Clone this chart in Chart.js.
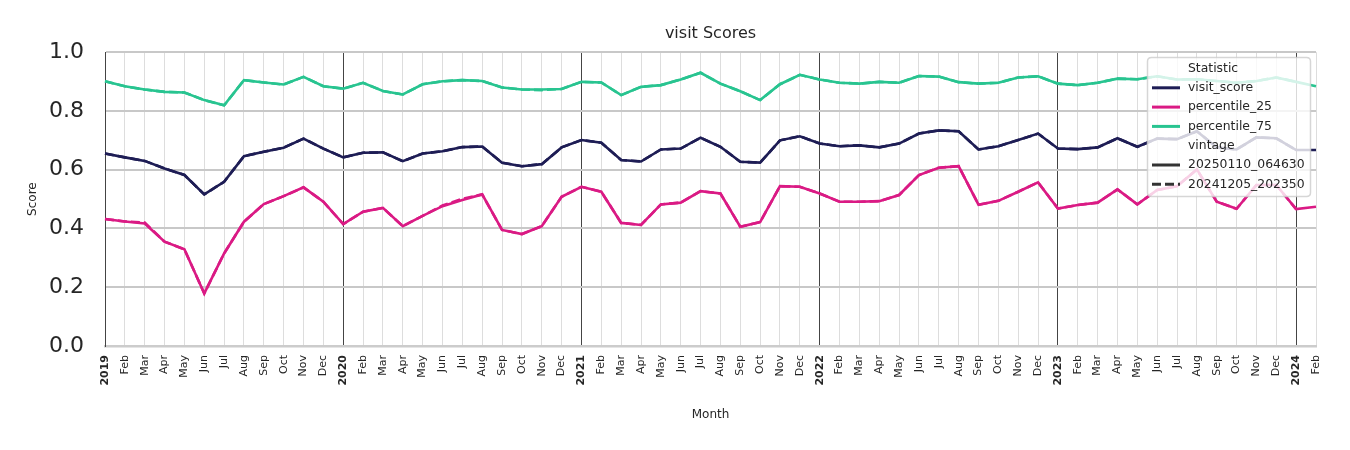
<!DOCTYPE html>
<html>
<head>
<meta charset="utf-8">
<script src="https://cdn.jsdelivr.net/npm/chart.js@4/dist/chart.umd.min.js"></script>
<style>
  html, body { margin: 0; padding: 0; background: #ffffff; }
  #wrap { width: 1350px; height: 450px; }
</style>
</head>
<body>
<div id="wrap"><canvas id="c" width="1350" height="450"></canvas></div>
<script>
// ---- Data (Jan 2019 .. Feb 2024) ----
const months = [
  "2019-01","2019-02","2019-03","2019-04","2019-05","2019-06","2019-07","2019-08","2019-09","2019-10","2019-11","2019-12",
  "2020-01","2020-02","2020-03","2020-04","2020-05","2020-06","2020-07","2020-08","2020-09","2020-10","2020-11","2020-12",
  "2021-01","2021-02","2021-03","2021-04","2021-05","2021-06","2021-07","2021-08","2021-09","2021-10","2021-11","2021-12",
  "2022-01","2022-02","2022-03","2022-04","2022-05","2022-06","2022-07","2022-08","2022-09","2022-10","2022-11","2022-12",
  "2023-01","2023-02","2023-03","2023-04","2023-05","2023-06","2023-07","2023-08","2023-09","2023-10","2023-11","2023-12",
  "2024-01","2024-02"
];
const monthNames = ["Jan","Feb","Mar","Apr","May","Jun","Jul","Aug","Sep","Oct","Nov","Dec"];

const visitScore = [
  0.655, 0.642, 0.630, 0.604, 0.582, 0.516, 0.559, 0.646, 0.661, 0.675, 0.706, 0.672,
  0.642, 0.658, 0.659, 0.629, 0.655, 0.663, 0.677, 0.679, 0.624, 0.612, 0.619, 0.676,
  0.701, 0.692, 0.633, 0.628, 0.669, 0.672, 0.709, 0.678, 0.627, 0.624, 0.700, 0.714,
  0.689, 0.680, 0.683, 0.676, 0.689, 0.723, 0.734, 0.731, 0.669, 0.680, 0.701, 0.723,
  0.672, 0.670, 0.676, 0.707, 0.678, 0.706, 0.704, 0.731, 0.676, 0.669, 0.710, 0.707,
  0.667, 0.667
];
const percentile25 = [
  0.432, 0.424, 0.417, 0.355, 0.329, 0.179, 0.315, 0.423, 0.483, 0.510, 0.540, 0.491,
  0.415, 0.457, 0.470, 0.408, 0.443, 0.476, 0.497, 0.516, 0.395, 0.381, 0.408, 0.508,
  0.542, 0.525, 0.419, 0.412, 0.482, 0.488, 0.527, 0.519, 0.406, 0.422, 0.544, 0.542,
  0.519, 0.491, 0.491, 0.493, 0.514, 0.582, 0.607, 0.612, 0.481, 0.494, 0.525, 0.557,
  0.468, 0.480, 0.488, 0.533, 0.482, 0.531, 0.544, 0.601, 0.491, 0.467, 0.548, 0.548,
  0.466, 0.474
];
const percentile75 = [
  0.901, 0.884, 0.873, 0.865, 0.863, 0.837, 0.819, 0.905, 0.897, 0.890, 0.916, 0.884,
  0.876, 0.896, 0.868, 0.856, 0.891, 0.901, 0.905, 0.902, 0.880, 0.873, 0.873, 0.875,
  0.899, 0.897, 0.854, 0.882, 0.888, 0.907, 0.930, 0.893, 0.867, 0.837, 0.891, 0.923,
  0.907, 0.896, 0.893, 0.899, 0.896, 0.919, 0.917, 0.898, 0.893, 0.896, 0.914, 0.918,
  0.893, 0.888, 0.896, 0.910, 0.908, 0.918, 0.907, 0.908, 0.902, 0.896, 0.902, 0.914,
  0.899, 0.884
];
// previous vintage (20241205_202350) - practically identical, ends Jan 2024
const prevVisitScore = [
  0.655, 0.642, 0.630, 0.604, 0.582, 0.516, 0.559, 0.646, 0.661, 0.675, 0.706, 0.672,
  0.642, 0.658, 0.659, 0.629, 0.655, 0.663, 0.677, 0.679, 0.624, 0.612, 0.619, 0.676,
  0.701, 0.692, 0.633, 0.628, 0.669, 0.672, 0.709, 0.678, 0.627, 0.624, 0.700, 0.714,
  0.689, 0.680, 0.683, 0.676, 0.689, 0.723, 0.734, 0.731, 0.669, 0.680, 0.701, 0.723,
  0.672, 0.670, 0.676, 0.707, 0.678, 0.706, 0.704, 0.731, 0.676, 0.669, 0.710, 0.707,
  0.667
];
const prevPercentile25 = [
  0.432, 0.424, 0.420, 0.355, 0.329, 0.179, 0.315, 0.423, 0.483, 0.510, 0.540, 0.491,
  0.415, 0.457, 0.470, 0.408, 0.443, 0.478, 0.501, 0.516, 0.395, 0.381, 0.408, 0.508,
  0.542, 0.525, 0.419, 0.412, 0.482, 0.488, 0.527, 0.519, 0.406, 0.422, 0.544, 0.542,
  0.519, 0.491, 0.491, 0.493, 0.514, 0.582, 0.607, 0.612, 0.481, 0.494, 0.525, 0.557,
  0.468, 0.480, 0.488, 0.533, 0.482, 0.531, 0.544, 0.601, 0.491, 0.467, 0.548, 0.548,
  0.466
];
const prevPercentile75 = [
  0.901, 0.884, 0.873, 0.865, 0.863, 0.837, 0.819, 0.905, 0.897, 0.890, 0.916, 0.884,
  0.876, 0.896, 0.868, 0.856, 0.891, 0.901, 0.905, 0.902, 0.880, 0.873, 0.871, 0.875,
  0.899, 0.897, 0.854, 0.882, 0.888, 0.907, 0.930, 0.893, 0.867, 0.837, 0.891, 0.923,
  0.907, 0.896, 0.893, 0.899, 0.896, 0.919, 0.917, 0.898, 0.893, 0.896, 0.914, 0.918,
  0.893, 0.888, 0.896, 0.910, 0.908, 0.918, 0.907, 0.908, 0.902, 0.896, 0.902, 0.914,
  0.899
];
const yTicks = [0.0, 0.2, 0.4, 0.6, 0.8, 1.0];

const COLORS = { visit: '#1e1d55', p25: '#da1a84', p75: '#28c490' };
const FONT = "'DejaVu Sans', 'Liberation Sans', sans-serif";

function tickText(i) {
  const [y, m] = months[i].split('-');
  return m === '01' ? y : monthNames[parseInt(m, 10) - 1];
}

const legendPlugin = {
  id: 'mplLegend',
  afterDatasetsDraw(chart) {
    const ctx = chart.ctx;
    const x0 = 1147.5, y0 = 57.5, w = 163, h = 139, r = 4;
    ctx.save();
    ctx.beginPath();
    ctx.moveTo(x0 + r, y0);
    ctx.lineTo(x0 + w - r, y0);
    ctx.quadraticCurveTo(x0 + w, y0, x0 + w, y0 + r);
    ctx.lineTo(x0 + w, y0 + h - r);
    ctx.quadraticCurveTo(x0 + w, y0 + h, x0 + w - r, y0 + h);
    ctx.lineTo(x0 + r, y0 + h);
    ctx.quadraticCurveTo(x0, y0 + h, x0, y0 + h - r);
    ctx.lineTo(x0, y0 + r);
    ctx.quadraticCurveTo(x0, y0, x0 + r, y0);
    ctx.closePath();
    ctx.fillStyle = 'rgba(255,255,255,0.8)';
    ctx.fill();
    ctx.strokeStyle = 'rgba(204,204,204,0.8)';
    ctx.lineWidth = 1.5;
    ctx.stroke();

    const items = [
      { label: 'Statistic' },
      { label: 'visit_score', color: COLORS.visit },
      { label: 'percentile_25', color: COLORS.p25 },
      { label: 'percentile_75', color: COLORS.p75 },
      { label: 'vintage' },
      { label: '20250110_064630', color: '#333333' },
      { label: '20241205_202350', color: '#333333', dash: [9, 4] }
    ];
    ctx.font = '12.4px ' + FONT;
    ctx.textBaseline = 'middle';
    ctx.textAlign = 'left';
    items.forEach((it, i) => {
      const yc = 68.5 + i * 19.3;
      if (it.color) {
        ctx.beginPath();
        ctx.setLineDash(it.dash || []);
        ctx.strokeStyle = it.color;
        ctx.lineWidth = 3;
        ctx.moveTo(1152, yc);
        ctx.lineTo(1180, yc);
        ctx.stroke();
        ctx.setLineDash([]);
      }
      ctx.fillStyle = '#262626';
      ctx.fillText(it.label, 1188, yc);
    });
    ctx.restore();
  }
};

function ds(label, data, color, dashed, order) {
  return {
    label, data,
    borderColor: color,
    backgroundColor: color,
    borderWidth: 2.6,
    borderDash: dashed ? [9, 4] : [],
    pointRadius: 0,
    pointHoverRadius: 0,
    tension: 0,
    fill: false,
    order
  };
}

new Chart(document.getElementById('c'), {
  type: 'line',
  data: {
    labels: months,
    datasets: [
      ds('visit_score', visitScore, COLORS.visit, false, 1),
      ds('percentile_25', percentile25, COLORS.p25, false, 1),
      ds('percentile_75', percentile75, COLORS.p75, false, 1),
      ds('visit_score prev', prevVisitScore, COLORS.visit, true, 2),
      ds('percentile_25 prev', prevPercentile25, COLORS.p25, true, 2),
      ds('percentile_75 prev', prevPercentile75, COLORS.p75, true, 2)
    ]
  },
  options: {
    responsive: false,
    animation: false,
    layout: { padding: { left: 0, right: 34, top: 0, bottom: 0 } },
    plugins: {
      legend: { display: false },
      tooltip: { enabled: false },
      title: {
        display: true,
        text: 'visit Scores',
        fullSize: false,
        color: '#262626',
        font: { family: FONT, size: 16, weight: 'normal' },
        padding: { top: 24, bottom: 9 }
      }
    },
    scales: {
      x: {
        type: 'category',
        offset: false,
        afterFit(scale) { scale.height = 104; },
        grid: {
          drawTicks: false,
          color: (c) => (c.index % 12 === 0 ? '#444444' : '#dddddd'),
          lineWidth: 1
        },
        border: { display: true, color: '#cccccc', width: 2.5 },
        ticks: {
          autoSkip: false,
          maxRotation: 90,
          minRotation: 90,
          padding: 9,
          color: '#262626',
          callback: (v, i) => tickText(i),
          font: (c) => ({
            family: FONT,
            size: 11,
            weight: (c.index % 12 === 0) ? 'bold' : 'normal'
          })
        },
        title: {
          display: true,
          text: 'Month',
          color: '#262626',
          font: { family: FONT, size: 12 },
          padding: { top: 0, bottom: 28 }
        }
      },
      y: {
        min: 0,
        max: 1,
        afterFit(scale) { scale.width = 105; },
        afterBuildTicks(scale) { scale.ticks = yTicks.map(v => ({ value: v })); },
        grid: { drawTicks: false, color: '#c8c8c8', lineWidth: 2 },
        border: { display: true, color: '#444444', width: 1 },
        ticks: {
          padding: 21,
          color: '#262626',
          font: { family: FONT, size: 22 },
          callback: (v) => Number(v).toFixed(1)
        },
        title: {
          display: true,
          text: 'Score',
          color: '#262626',
          font: { family: FONT, size: 12 },
          padding: { top: 26, bottom: 0 }
        }
      }
    }
  },
  plugins: [legendPlugin]
});
</script>
</body>
</html>
